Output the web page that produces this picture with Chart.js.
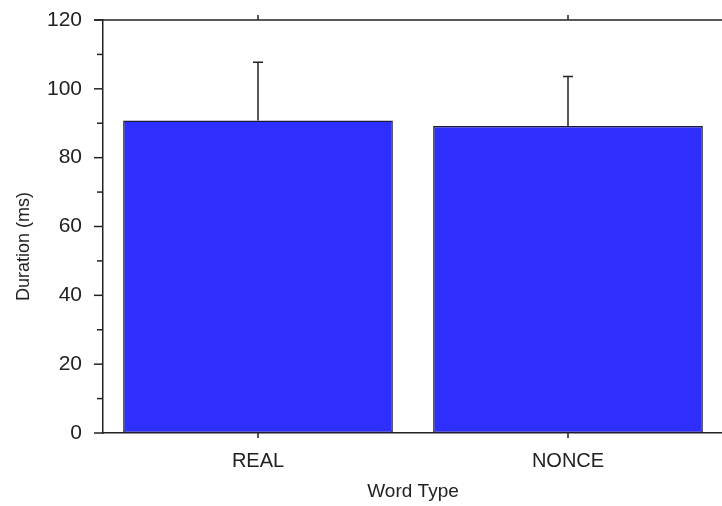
<!DOCTYPE html>
<html>
<head>
<meta charset="utf-8">
<script src="https://cdn.jsdelivr.net/npm/chart.js@4/dist/chart.umd.min.js"></script>
<style>
  body { margin: 0; background: #fff; overflow: hidden; }
</style>
</head>
<body>
<canvas id="durChart" width="730" height="506"></canvas>
<script>
const wordTypes = ['REAL', 'NONCE'];
const durations = [90.8, 89.2];
const errUpper = [16.9, 14.4];
const yTicksMajor = [0, 20, 40, 60, 80, 100, 120];

// error bars + tick marks + top frame line
const framePlugin = {
  id: 'frame',
  afterDatasetsDraw(chart) {
    const ctx = chart.ctx;
    const x = chart.scales.x, y = chart.scales.y;
    const area = chart.chartArea;
    const meta = chart.getDatasetMeta(0);
    ctx.save();
    ctx.strokeStyle = '#222';
    ctx.lineWidth = 1.5;
    meta.data.forEach((bar, i) => {
      const top = y.getPixelForValue(durations[i] + errUpper[i]);
      ctx.beginPath();
      ctx.moveTo(bar.x, bar.y);
      ctx.lineTo(bar.x, top);
      ctx.moveTo(bar.x - 5, top);
      ctx.lineTo(bar.x + 5, top);
      ctx.stroke();
    });
    // top line
    ctx.beginPath();
    ctx.moveTo(area.left - 9, area.top);
    ctx.lineTo(area.right, area.top);
    ctx.stroke();
    // y ticks, major + minor
    y.ticks.forEach(t => {
      const py = y.getPixelForValue(t.value);
      const len = t.value % 20 === 0 ? 9 : 6;
      ctx.beginPath();
      ctx.moveTo(area.left - len, py);
      ctx.lineTo(area.left, py);
      ctx.stroke();
    });
    // category ticks top and bottom
    wordTypes.forEach((w, i) => {
      const px = x.getPixelForValue(i);
      ctx.beginPath();
      ctx.moveTo(px, area.bottom);
      ctx.lineTo(px, area.bottom + 5);
      ctx.moveTo(px, area.top);
      ctx.lineTo(px, area.top - 5);
      ctx.stroke();
    });
    ctx.restore();
  }
};

new Chart(document.getElementById('durChart'), {
  type: 'bar',
  data: {
    labels: wordTypes,
    datasets: [{
      data: durations,
      backgroundColor: '#2f2ffd',
      borderColor: '#1a1a3a',
      borderWidth: 1.5,
      borderSkipped: false,
      categoryPercentage: 1,
      barPercentage: 0.87
    }]
  },
  options: {
    responsive: false,
    animation: false,
    layout: { padding: { top: 20, left: 8, right: 7, bottom: 3 } },
    plugins: { legend: { display: false }, tooltip: { enabled: false } },
    scales: {
      x: {
        afterFit(scale) { scale.height = 70; },
        grid: { display: false },
        border: { display: true, color: '#222', width: 1.5 },
        ticks: { color: '#222', padding: 8, font: { family: 'Liberation Sans', size: 20 } },
        title: { display: true, text: 'Word Type', color: '#222', padding: { top: 4, bottom: 0 },
                 font: { family: 'Liberation Sans', size: 19 } }
      },
      y: {
        min: 0, max: 120,
        afterFit(scale) {
          scale.width = 95;
          scale.paddingTop = 0;
          scale.paddingBottom = 0;
        },
        grid: { display: false },
        border: { display: true, color: '#222', width: 1.5 },
        afterBuildTicks(scale) {
          const ts = [];
          for (let v = 0; v <= 120; v += 10) ts.push({ value: v });
          scale.ticks = ts;
        },
        ticks: {
          color: '#222', padding: 13, autoSkip: false,
          font: { family: 'Liberation Sans', size: 21 },
          callback: v => yTicksMajor.includes(v) ? String(v) : ''
        },
        title: { display: true, text: 'Duration (ms)        ', color: '#222', padding: { top: 5, bottom: 0 },
                 font: { family: 'Liberation Sans', size: 18 } }
      }
    }
  },
  plugins: [framePlugin]
});
</script>
</body>
</html>
